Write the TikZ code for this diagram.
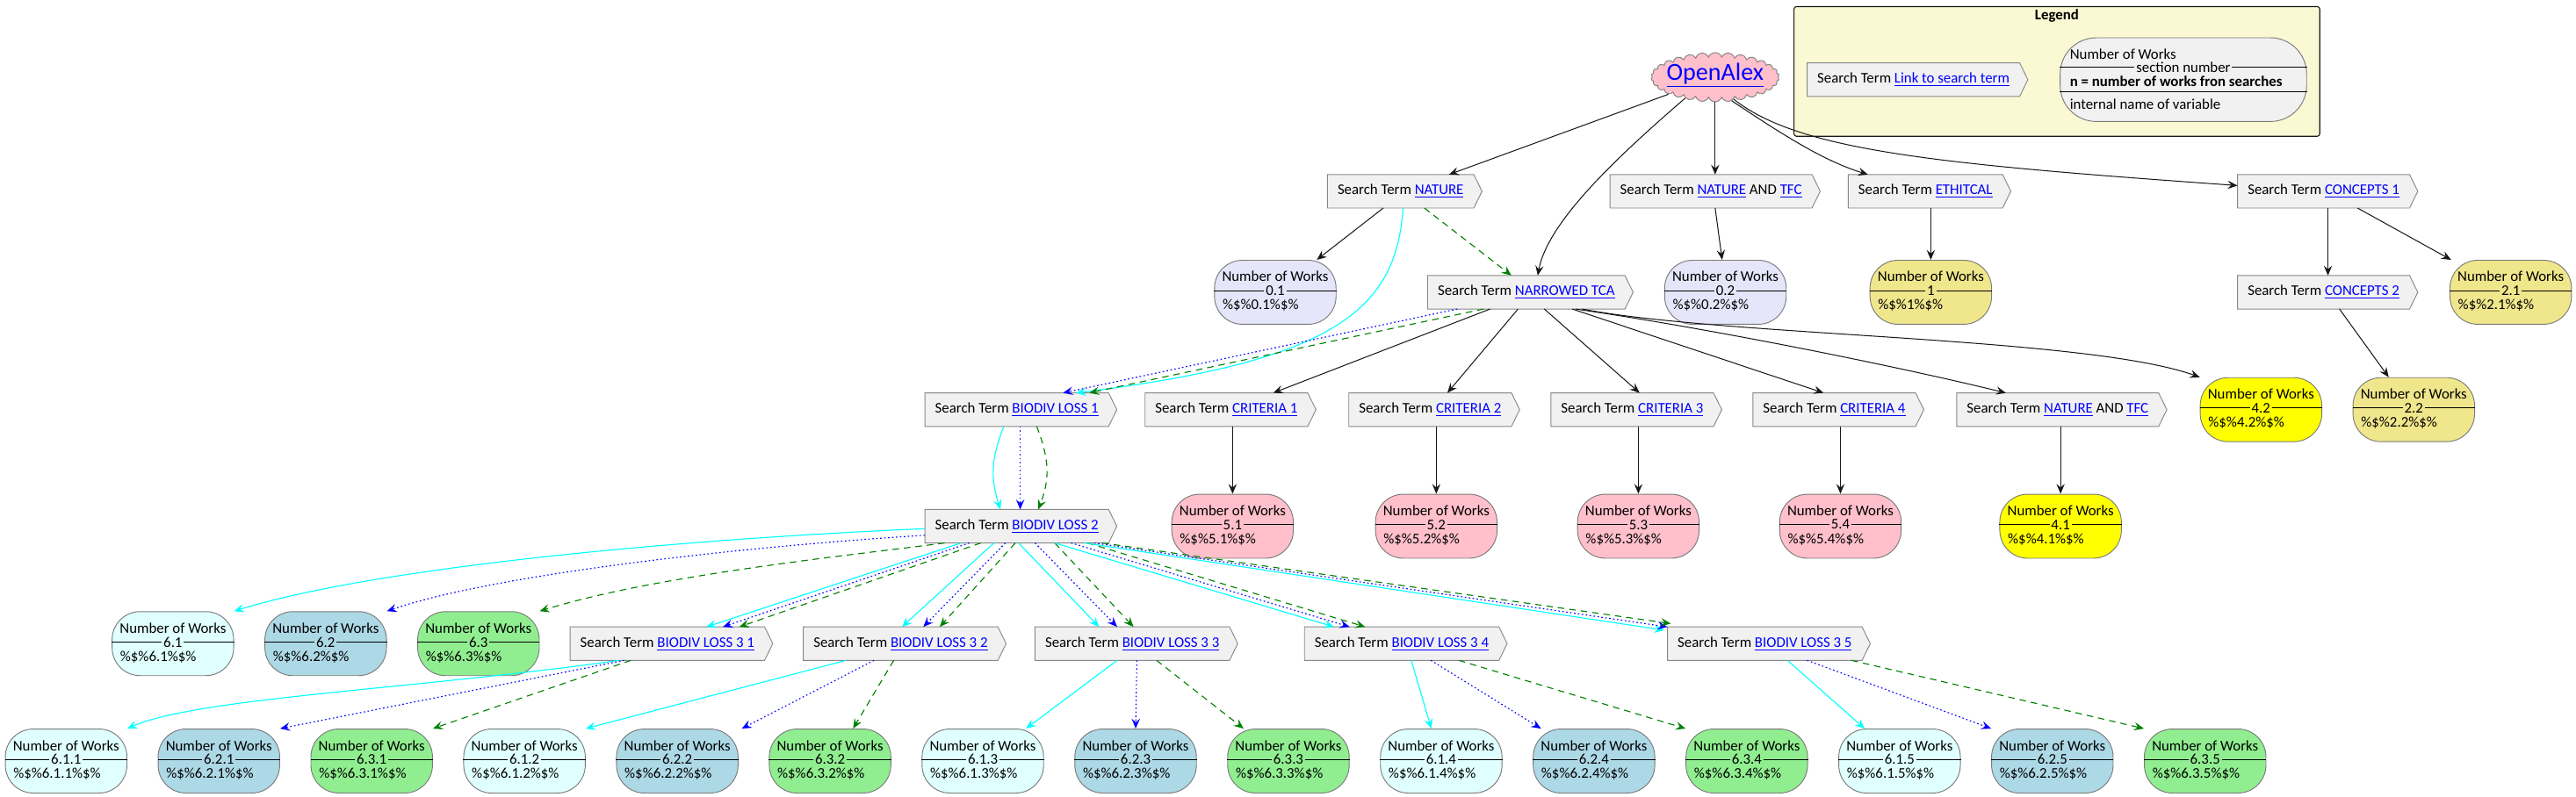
\documentclass[tikz,border=0pt]{standalone}
\usepackage{fontspec}
\setmainfont{Carlito}
\usetikzlibrary{arrows.meta,shapes.symbols}
\pgfdeclarelayer{bgA}
\pgfdeclarelayer{bgB}
\pgfsetlayers{bgA,bgB,main}

\definecolor{edgeblack}{HTML}{181818}
\definecolor{linkblue}{HTML}{0000FF}
\definecolor{termfill}{HTML}{F1F1F1}
\definecolor{termdraw}{HTML}{888888}
\definecolor{pilldraw}{HTML}{7A7A7A}
\definecolor{cPink}{HTML}{FFC0CB}
\definecolor{cLav}{HTML}{E6E6FA}
\definecolor{cKhaki}{HTML}{F0E68C}
\definecolor{cYellow}{HTML}{FFFF00}
\definecolor{cLCyan}{HTML}{E0FFFF}
\definecolor{cLBlue}{HTML}{ADD8E6}
\definecolor{cLGreen}{HTML}{90EE90}
\definecolor{legfill}{HTML}{FAF9D3}
\definecolor{eCyan}{HTML}{00FFFF}
\definecolor{eBlue}{HTML}{0000FF}
\definecolor{eGreen}{HTML}{008000}

\newcommand\nf{\fontsize{9}{11}\selectfont}
\newcommand\lnk[1]{\textcolor{linkblue}{\underline{#1}}}

\tikzset{
  termtxt/.style={rectangle, minimum height=20pt, inner xsep=6pt, inner ysep=0pt, font=\nf, anchor=west},
  termshape/.style={fill=termfill, draw=termdraw, line width=0.5pt, line join=miter},
  pillbox/.style={rectangle, rounded corners=17pt, minimum width=74pt, minimum height=39pt, inner sep=0pt, draw=pilldraw, line width=0.5pt},
  pilltxt/.style={font=\nf, inner sep=0pt},
  pillrule/.style={draw=black, line width=0.6pt},
  arrowtip/.style={-{Stealth[length=6pt,width=5pt,inset=2.2pt]}},
  eblk/.style={draw=edgeblack, line width=0.55pt, arrowtip},
  ecy/.style={draw=eCyan, line width=0.6pt, arrowtip},
  eblu/.style={draw=eBlue, line width=0.6pt, dash pattern=on 0.9pt off 1.5pt, arrowtip},
  egrn/.style={draw=eGreen, line width=0.6pt, dash pattern=on 4pt off 3pt, arrowtip},
}

\newcommand\term[4]{%
  \node[termtxt] (#1) at (#2,#3) {#4};
  \begin{pgfonlayer}{bgB}
    \draw[termshape] (#1.north west) -- (#1.north east) -- ([xshift=5pt]#1.east) -- (#1.south east) -- (#1.south west) -- cycle;
  \end{pgfonlayer}}

\newcommand\pill[5]{%
  \node[pillbox, fill=#4, anchor=west] (#1) at (#2,#3) {};
  \draw[pillrule] ([yshift=1pt]#1.west) -- ([yshift=1pt]#1.east);
  \node[pilltxt, fill=#4, inner xsep=1pt] (#1-n) at ([yshift=1pt]#1.center) {#5};
  \node[pilltxt] (#1-h) at ([yshift=9.5pt]#1.center) {Number of Works};
  \node[pilltxt, anchor=west] (#1-v) at ([xshift=5pt,yshift=-8pt]#1.west) {\%\$\%#5\%\$\%};}

\begin{document}
\begin{tikzpicture}[x=1pt,y=-1pt]
\useasboundingbox (0,0) rectangle (1568,485.4);

% ---------- legend ----------
\begin{pgfonlayer}{bgA}
\node[draw=edgeblack, fill=legfill, line width=0.6pt, rounded corners=1.5pt, minimum width=320pt, minimum height=79pt, inner sep=0pt] (leg) at (1252,43.5) {};
\end{pgfonlayer}
\node[font=\nf\bfseries, inner sep=0pt] (legt) at (1252,9.5) {Legend};
\term{legterm}{1100}{48.5}{Search Term \lnk{Link to search term}}
\node[pillbox, rounded corners=22pt, minimum width=150pt, minimum height=51pt, fill=termfill] (legpill) at (1329,48.5) {};
\draw[pillrule] ([yshift=7.5pt]legpill.west) -- ([yshift=7.5pt]legpill.east);
\draw[pillrule] ([yshift=-7.5pt]legpill.west) -- ([yshift=-7.5pt]legpill.east);
\node[pilltxt, fill=termfill, inner xsep=1pt] (legsec) at ([yshift=7.5pt]legpill.center) {section number};
\node[pilltxt, anchor=west] (legnw) at ([xshift=6pt,yshift=15.5pt]legpill.west) {Number of Works};
\node[pilltxt, anchor=west, font=\nf\bfseries] (legn) at ([xshift=6pt,yshift=-1pt]legpill.west) {n = number of works fron searches};
\node[pilltxt, anchor=west] (legi) at ([xshift=6pt,yshift=-15pt]legpill.west) {internal name of variable};

% ---------- cloud ----------
\node[cloud, cloud puffs=30, cloud puff arc=140, cloud ignores aspect, minimum width=78pt, minimum height=30pt, fill=cPink, draw=gray, line width=0.5pt, inner sep=0pt] (oa) at (1044,47) {};
\node[font=\fontsize{15}{18}\selectfont, inner sep=0pt] (oat) at (1044,46) {\lnk{OpenAlex}};

% ---------- search terms ----------
\term{tNat}{808}{116.5}{Search Term \lnk{NATURE}}
\term{tNatTfcA}{980}{116.5}{Search Term \lnk{NATURE} AND \lnk{TFC}}
\term{tEth}{1125}{116.5}{Search Term \lnk{ETHITCAL}}
\term{tConA}{1362}{116.5}{Search Term \lnk{CONCEPTS 1}}
\term{tNar}{869}{178}{Search Term \lnk{NARROWED TCA}}
\term{tConB}{1362}{178}{Search Term \lnk{CONCEPTS 2}}
\term{tBA}{563}{249.5}{Search Term \lnk{BIODIV LOSS 1}}
\term{tCA}{697}{249.5}{Search Term \lnk{CRITERIA 1}}
\term{tCB}{821}{249.5}{Search Term \lnk{CRITERIA 2}}
\term{tCC}{944}{249.5}{Search Term \lnk{CRITERIA 3}}
\term{tCD}{1067}{249.5}{Search Term \lnk{CRITERIA 4}}
\term{tNatTfcB}{1191}{249.5}{Search Term \lnk{NATURE} AND \lnk{TFC}}
\term{tBB}{563}{320.5}{Search Term \lnk{BIODIV LOSS 2}}
\term{tBa}{347}{392}{Search Term \lnk{BIODIV LOSS 3 1}}
\term{tBb}{489}{392}{Search Term \lnk{BIODIV LOSS 3 2}}
\term{tBc}{630}{392}{Search Term \lnk{BIODIV LOSS 3 3}}
\term{tBd}{794}{392}{Search Term \lnk{BIODIV LOSS 3 4}}
\term{tBe}{1015}{392}{Search Term \lnk{BIODIV LOSS 3 5}}

% ---------- pills ----------
\pill{p01}{739}{178}{cLav}{0.1}
\pill{p02}{1013}{178}{cLav}{0.2}
\pill{p1}{1138}{178}{cKhaki}{1}
\pill{p21}{1491}{178}{cKhaki}{2.1}
\pill{p42}{1339}{249.5}{cYellow}{4.2}
\pill{p22}{1432}{249.5}{cKhaki}{2.2}
\pill{p51}{713}{320.5}{cPink}{5.1}
\pill{p52}{837}{320.5}{cPink}{5.2}
\pill{p53}{960}{320.5}{cPink}{5.3}
\pill{p54}{1083}{320.5}{cPink}{5.4}
\pill{p41}{1217}{320.5}{cYellow}{4.1}
\pill{p61}{68}{392}{cLCyan}{6.1}
\pill{p62}{161}{392}{cLBlue}{6.2}
\pill{p63}{254}{392}{cLGreen}{6.3}
\pill{p611}{3}{463.5}{cLCyan}{6.1.1}
\pill{p621}{96}{463.5}{cLBlue}{6.2.1}
\pill{p631}{189}{463.5}{cLGreen}{6.3.1}
\pill{p612}{282}{463.5}{cLCyan}{6.1.2}
\pill{p622}{375}{463.5}{cLBlue}{6.2.2}
\pill{p632}{468}{463.5}{cLGreen}{6.3.2}
\pill{p613}{561}{463.5}{cLCyan}{6.1.3}
\pill{p623}{654}{463.5}{cLBlue}{6.2.3}
\pill{p633}{747}{463.5}{cLGreen}{6.3.3}
\pill{p614}{840}{463.5}{cLCyan}{6.1.4}
\pill{p624}{933}{463.5}{cLBlue}{6.2.4}
\pill{p634}{1026}{463.5}{cLGreen}{6.3.4}
\pill{p615}{1119}{463.5}{cLCyan}{6.1.5}
\pill{p625}{1212}{463.5}{cLBlue}{6.2.5}
\pill{p635}{1305}{463.5}{cLGreen}{6.3.5}

% ---------- black connectors ----------
\draw[eblk] (oa) -- ([xshift=74pt]tNat.north west);
\draw[eblk] (oa.215) .. controls (985,95) and (942,135) .. ([xshift=67pt]tNar.north west);
\draw[eblk] (oa.south) -- (oa.south |- tNatTfcA.north);
\draw[eblk] (oa.305) .. controls (1085,82) and (1110,98) .. ([xshift=12pt]tEth.north west);
\draw[eblk] (oa.310) .. controls (1095,92) and (1180,100) .. ([yshift=3.5pt]tConA.west);
\draw[eblk] ([xshift=34pt]tNat.south west) -- ([xshift=-12pt]p01.north east);
\draw[eblk] ([xshift=64pt]tNatTfcA.south west) -- ([xshift=-2pt]p02.north);
\draw[eblk] (tEth.south -| p1.north) -- (p1.north);
\draw[eblk] ([xshift=55pt]tConA.south west) -- ([xshift=55pt]tConB.north west);
\draw[eblk] ([xshift=73pt]tConA.south west) -- ([xshift=1pt]p21.north west);
\draw[eblk] ([xshift=62pt]tConB.south west) -- ([xshift=22pt]p22.north west);
\draw[eblk] ([xshift=38pt]tNar.south west) -- ([xshift=78pt]tCA.north west);
\draw[eblk] ([xshift=55pt]tNar.south west) -- ([xshift=60pt]tCB.north west);
\draw[eblk] ([xshift=71pt]tNar.south west) -- ([xshift=54pt]tCC.north west);
\draw[eblk] ([xshift=88pt]tNar.south west) -- ([xshift=43pt]tCD.north west);
\draw[eblk] ([xshift=90pt]tNar.south west) .. controls (1040,200) and (1150,222) .. ([xshift=30pt]tNatTfcB.north west);
\draw[eblk] ([xshift=94pt]tNar.south west) .. controls (1050,205) and (1270,205) .. (p42.north west);
\draw[eblk] (tCA.south -| p51.north) -- (p51.north);
\draw[eblk] (tCB.south -| p52.north) -- (p52.north);
\draw[eblk] (tCC.south -| p53.north) -- (p53.north);
\draw[eblk] (tCD.south -| p54.north) -- (p54.north);
\draw[eblk] (tNatTfcB.south -| p41.north) -- (p41.north);

% ---------- coloured connectors ----------
\draw[ecy] ([xshift=46pt]tNat.south west) .. controls (850,190) and (810,220) .. ([xshift=92pt]tBA.north west);
\draw[egrn] ([xshift=59pt]tNat.south west) -- ([xshift=51pt]tNar.north west);
\draw[eblu] ([xshift=18pt]tNar.south west) -- ([xshift=84pt]tBA.north west);
\draw[egrn] ([xshift=34pt]tNar.south west) -- ([xshift=100pt]tBA.north west);

\draw[ecy] ([xshift=48pt]tBA.south west) .. controls (603,280) and (603,292) .. ([xshift=46pt]tBB.north west);
\draw[eblu] ([xshift=58pt]tBA.south west) -- ([xshift=58pt]tBB.north west);
\draw[egrn] ([xshift=68pt]tBA.south west) .. controls (639,280) and (639,292) .. ([xshift=69pt]tBB.north west);

\draw[ecy] ([yshift=-1.5pt]tBB.west) .. controls (420,328) and (230,345) .. (p61.north east);
\draw[eblu] ([yshift=-5.5pt]tBB.west) .. controls (450,333) and (300,350) .. (p62.north east);
\draw[egrn] ([xshift=12pt]tBB.south west) .. controls (520,338) and (400,350) .. (p63.north east);

\draw[ecy] ([xshift=22pt]tBB.south west) -- ([xshift=83pt]tBa.north west);
\draw[eblu] ([xshift=27pt]tBB.south west) -- ([xshift=93pt]tBa.north west);
\draw[egrn] ([xshift=34pt]tBB.south west) -- ([xshift=103pt]tBa.north west);
\draw[ecy] ([xshift=42pt]tBB.south west) -- ([xshift=60pt]tBb.north west);
\draw[eblu] ([xshift=49pt]tBB.south west) -- ([xshift=73pt]tBb.north west);
\draw[egrn] ([xshift=55pt]tBB.south west) -- ([xshift=83pt]tBb.north west);
\draw[ecy] ([xshift=57pt]tBB.south west) -- ([xshift=39pt]tBc.north west);
\draw[eblu] ([xshift=67pt]tBB.south west) -- ([xshift=50pt]tBc.north west);
\draw[egrn] ([xshift=79pt]tBB.south west) -- ([xshift=60pt]tBc.north west);
\draw[ecy] ([xshift=79pt]tBB.south west) -- ([xshift=18pt]tBd.north west);
\draw[eblu] ([xshift=89pt]tBB.south west) -- ([xshift=27.5pt]tBd.north west);
\draw[egrn] ([xshift=99pt]tBB.south west) -- ([xshift=37pt]tBd.north west);
\draw[ecy] ([xshift=97pt]tBB.south west) -- ([xshift=-2pt,yshift=-2pt]tBe.north west);
\draw[eblu] ([xshift=103pt]tBB.south west) -- (tBe.north west);
\draw[egrn] ([xshift=108pt]tBB.south west) -- ([xshift=2pt,yshift=2pt]tBe.north west);

\draw[ecy] ([xshift=30pt]tBa.south west) .. controls (250,420) and (120,425) .. (p611.north east);
\draw[eblu] ([xshift=33pt]tBa.south west) -- (p621.north east);
\draw[egrn] ([xshift=37pt]tBa.south west) -- (p631.north east);
\draw[ecy] ([xshift=26pt]tBb.south west) -- (p612.north east);
\draw[eblu] ([xshift=43pt]tBb.south west) -- ([xshift=2pt]p622.north east);
\draw[egrn] ([xshift=55pt]tBb.south west) -- ([xshift=14pt]p632.north);
\draw[ecy] ([xshift=50pt]tBc.south west) -- ([xshift=-11pt]p613.north east);
\draw[eblu] ([xshift=62pt]tBc.south west) -- (p623.north);
\draw[egrn] ([xshift=74pt]tBc.south west) -- ([xshift=10pt]p633.north west);
\draw[ecy] ([xshift=65pt]tBd.south west) -- ([xshift=-6pt]p614.north);
\draw[eblu] ([xshift=77pt]tBd.south west) -- ([xshift=5pt]p624.north west);
\draw[egrn] ([xshift=94pt]tBd.south west) -- (p634.north west);
\draw[ecy] ([xshift=73pt]tBe.south west) -- ([xshift=16pt]p615.north west);
\draw[eblu] ([xshift=85pt]tBe.south west) -- (p625.north west);
\draw[egrn] ([xshift=112pt]tBe.south west) -- (p635.north west);
\end{tikzpicture}
\end{document}
